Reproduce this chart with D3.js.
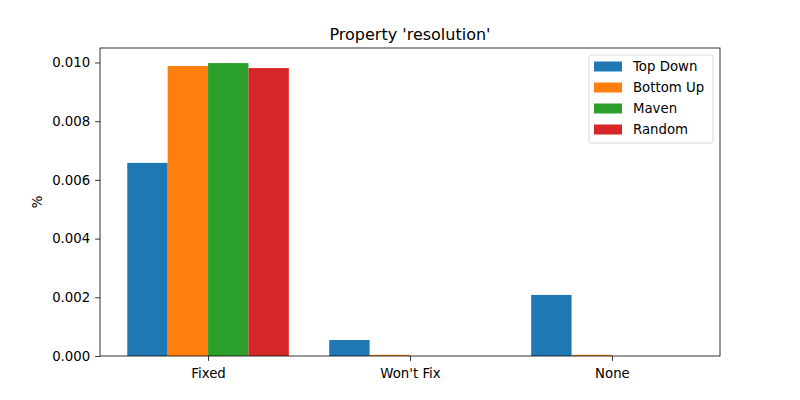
<!DOCTYPE html>
<html>
<head>
<meta charset="utf-8">
<script src="https://cdn.jsdelivr.net/npm/d3@7"></script>
<style>
  body { margin: 0; background: #fff; }
  text { font-family: "DejaVu Sans", sans-serif; fill: #000; }
</style>
</head>
<body>
<svg id="chart" width="800" height="400"></svg>
<script>
// categories and series
var categories = ["Fixed", "Won't Fix", "None"];
var seriesNames = ["Top Down", "Bottom Up", "Maven", "Random"];
var colors = ["#1f77b4", "#ff7f0e", "#2ca02c", "#d62728"];
var topDown = [0.00658, 0.000545, 0.00208];
var bottomUp = [0.00988, 0.00004, 0.00004];
var maven = [0.00998, 0, 0];
var random = [0.00981, 0, 0];
var yTicks = [0, 0.002, 0.004, 0.006, 0.008, 0.010];

var series = [topDown, bottomUp, maven, random];
var barWidth = 0.2;

var svg = d3.select("#chart");
var plotLeft = 100, plotRight = 720, plotTop = 48, plotBottom = 356;

var x = d3.scaleLinear().domain([-0.535, 2.535]).range([plotLeft, plotRight]);
var y = d3.scaleLinear().domain([0, 0.010494]).range([plotBottom, plotTop]);

// bars
series.forEach(function(vals, s) {
    svg.append("g").selectAll("rect")
        .data(vals)
        .enter().append("rect")
        .attr("x", function(d, i) { return x(i - 0.4 + s * barWidth); })
        .attr("width", function() { return x(barWidth) - x(0); })
        .attr("y", function(d) { return y(d); })
        .attr("height", function(d) { return y(0) - y(d); })
        .attr("fill", colors[s]);
});

// axes
var yAxis = d3.axisLeft(y).tickValues(yTicks).tickFormat(d3.format(".3f")).tickSize(4.9).tickPadding(4.9);
var gy = svg.append("g").attr("transform", "translate(" + plotLeft + ",0)").call(yAxis);
var xAxis = d3.axisBottom(x).tickValues([0, 1, 2]).tickFormat(function(d) { return categories[d]; }).tickSize(4.9).tickPadding(7.5);
var gx = svg.append("g").attr("transform", "translate(0," + plotBottom + ")").call(xAxis);
[gx, gy].forEach(function(g) {
    g.select(".domain").remove();
    g.selectAll("line").attr("stroke", "#000").attr("stroke-width", 0.8);
    g.selectAll("text").attr("font-size", 13.3).attr("font-family", "DejaVu Sans");
});

// frame
svg.append("rect")
    .attr("x", plotLeft).attr("y", plotTop)
    .attr("width", plotRight - plotLeft).attr("height", plotBottom - plotTop)
    .attr("fill", "none").attr("stroke", "#000").attr("stroke-width", 0.8);

// title and y label
svg.append("text")
    .attr("x", (plotLeft + plotRight) / 2).attr("y", 40)
    .attr("text-anchor", "middle").attr("font-size", 16)
    .text("Property 'resolution'");
svg.append("text")
    .attr("transform", "translate(42," + (plotTop + plotBottom) / 2 + ") rotate(-90)")
    .attr("text-anchor", "middle").attr("font-size", 13.3)
    .text("%");

// legend
var legend = svg.append("g").attr("transform", "translate(589,55)");
legend.append("rect")
    .attr("width", 124).attr("height", 88).attr("rx", 2)
    .attr("fill", "#fff").attr("fill-opacity", 0.8)
    .attr("stroke", "#ccc").attr("stroke-width", 0.8);
seriesNames.forEach(function(name, i) {
    var row = legend.append("g").attr("transform", "translate(0," + (11 + i * 21) + ")");
    row.append("rect").attr("x", 5).attr("y", -4.5).attr("width", 28).attr("height", 10).attr("fill", colors[i]);
    row.append("text").attr("x", 44).attr("y", 5).attr("font-size", 13.3).text(name);
});
</script>
</body>
</html>
